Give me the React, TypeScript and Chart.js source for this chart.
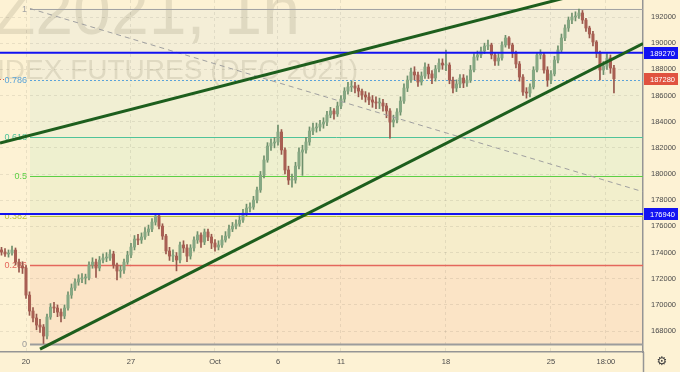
import React, { useEffect, useRef } from 'react';
import { Chart, registerables } from 'chart.js';

Chart.register(...registerables);

// ---- candle data (1 candle ≈ 1/6 trading day), index of first candle = -1 ----
const firstIndex = -1;
const firstOpen = 174200;
const closes = [
  174040, 173890, 173960, 174190, 173270, 172970, 172820, 170750, 169530, 169000,
  168460, 168310, 167620, 169070, 169830, 169760, 169450, 169150, 169760, 170750,
  171290, 171750, 171980, 172060, 172060, 173050, 173270, 172820, 173430, 173580,
  173580, 173890, 173050, 172590, 172660, 173270, 173810, 174420, 175030, 174960,
  175190, 175570, 175800, 176330, 176790, 176020, 175260, 174120, 173730, 173730,
  173430, 174580, 174350, 173730, 174350, 174960, 175340, 174800, 175570, 175190,
  174730, 174420, 174580, 174960, 175260, 175800, 176020, 176180, 176480, 177020,
  177400, 177480, 178010, 178780, 179920, 181070, 182140, 182370, 182450, 183210,
  181840, 180310, 179540, 179540, 180610, 181680, 181840, 182450, 183290, 183520,
  183590, 183820, 183970, 184510, 184820, 184590, 185200, 185730, 186340, 186650,
  186730, 186570, 186340, 186040, 185890, 185660, 185500, 185430, 185430, 185200,
  184820, 183970, 184130, 184740, 185580, 186570, 187180, 187800, 187570, 187030,
  187490, 188180, 187650, 187340, 188030, 188480, 188330, 188330, 187180, 186570,
  186880, 187340, 186960, 187180, 187950, 188940, 189100, 189400, 189780, 189860,
  189100, 188640, 188870, 189860, 190400, 189860, 189250, 188410, 187410, 186270,
  186190, 186650, 187950, 189100, 189100, 187950, 187180, 187650, 188710, 189480,
  190400, 191160, 191770, 192000, 192080, 192310, 191770, 191160, 190700, 190090,
  189250, 187950, 188250, 188870, 188100, 187280,
];
const highs = [
  174400, 174300, 174200, 174500, 174350, 173500, 173300, 173000, 171000, 169800,
  169300, 168900, 168500, 169300, 170100, 170200, 170000, 169700, 170000, 171000,
  171600, 172000, 172300, 172400, 172350, 173300, 173600, 173500, 173700, 173900,
  174000, 174200, 174100, 173200, 173000, 173500, 174100, 174700, 175300, 175400,
  175500, 175900, 176100, 176600, 176940, 176900, 176200, 175400, 174400, 174200,
  174000, 174800, 174900, 174600, 174600, 175200, 175600, 175500, 175800, 175800,
  175400, 175000, 174900, 175300, 175600, 176100, 176300, 176500, 176800, 177300,
  177700, 177800, 178300, 179000, 180200, 181400, 182400, 182700, 182800, 183750,
  183400, 182000, 180600, 180000, 180900, 182000, 182200, 182800, 183600, 183900,
  183900, 184100, 184300, 184800, 185100, 185000, 185500, 186000, 186600, 187000,
  187100, 187000, 186800, 186500, 186300, 186200, 186000, 185900, 185800, 185700,
  185400, 185000, 184500, 185000, 185900, 186900, 187500, 188100, 188200, 187800,
  187800, 188500, 188400, 187900, 188300, 188800, 188800, 189480, 188500, 187400,
  187200, 187600, 187600, 187500, 188300, 189200, 189400, 189700, 190000, 190240,
  190000, 189300, 189200, 190100, 190600, 190500, 190000, 189400, 188600, 187600,
  186600, 186900, 188200, 189300, 189500, 189300, 188200, 187900, 189000, 189800,
  190700, 191400, 192000, 192300, 192400, 192600, 192500, 191900, 191300, 190900,
  190200, 189400, 188600, 189200, 189100, 188300,
];
const lows = [
  173800, 173700, 173650, 173800, 173050, 172500, 172400, 170500, 169200, 168700,
  168100, 167900, 167050, 167400, 168900, 169400, 169100, 168700, 168950, 169600,
  170500, 171100, 171500, 171700, 171600, 171900, 172800, 172100, 172600, 173200,
  173300, 173400, 172800, 171900, 172100, 172400, 173100, 173600, 174200, 174600,
  174700, 175000, 175300, 175600, 176100, 175800, 175000, 173900, 173400, 173300,
  172600, 173200, 174000, 173300, 173500, 174100, 174700, 174400, 174600, 174900,
  174300, 174100, 174200, 174400, 174800, 175100, 175600, 175800, 176000, 176300,
  176800, 177100, 177300, 177800, 178600, 179700, 180900, 181800, 182000, 182200,
  181500, 180000, 179200, 179000, 179300, 180400, 179900, 181600, 182200, 183000,
  183200, 183300, 183500, 183700, 184300, 184200, 184400, 185000, 185500, 186100,
  186300, 186200, 185900, 185700, 185500, 185300, 185100, 185000, 185000, 184800,
  184300, 182750, 183600, 183900, 184500, 185400, 186300, 187000, 187200, 186700,
  186800, 187300, 187300, 186900, 187100, 187800, 188000, 187900, 186900, 186200,
  186300, 186600, 186600, 186700, 187000, 187800, 188700, 188900, 189200, 189500,
  188800, 188300, 188300, 188700, 189700, 189600, 188900, 188100, 187100, 186000,
  185800, 185900, 186500, 187800, 188800, 187700, 186700, 186900, 187500, 188500,
  189300, 190200, 190900, 191500, 191700, 191900, 191500, 190900, 190400, 189800,
  188900, 187200, 187600, 188000, 187700, 186190,
];

// ---- axes ----
const xMin = -1.43;
const xMax = 182.3;
const yMin = 166400;
const yMax = 193300;
const yTickValues = [
  168000, 170000, 172000, 174000, 176000, 178000, 180000,
  182000, 184000, 186000, 188000, 190000, 192000,
];
const xTickIdx = [6, 36, 60, 78, 96, 126, 156, 171.7];
const xTickLabels = ['20', '27', 'Oct', '6', '11', '18', '25', '18:00'];

// ---- fibonacci retracement ----
const fibStartIdx = 7.14;
const fibLow = 167000;
const fibHigh = 192650;
const fibLevels = [0, 0.236, 0.382, 0.5, 0.618, 0.786, 1];
const fibLabels = ['0', '0.236', '0.382', '0.5', '0.618', '0.786', '1'];
const fibColors = ['#9c9c9c', '#e4675c', '#b9c23e', '#5ccf45', '#4fc39a', '#5aa3d8', '#a3a3a3'];
const fibBandColors = ['#fbe4c6', '#f6edcb', '#f2efcc', '#eef0cf', '#f1efd3', '#f4eed7'];

// ---- drawings ----
const hLevels = [189270, 176940];
const lastPrice = 187280;
const trendLower = [{ x: 10, y: 166620 }, { x: 182.3, y: 189970 }];
const trendUpper = [{ x: -1.43, y: 182370 }, { x: 182.3, y: 194990 }];
const fibDiag = [{ x: 7.14, y: 192650 }, { x: 182.3, y: 178650 }];
const watermarkLines = ['RIZ2021, 1h', 'RTS INDEX FUTURES (DEC 2021)'];

const FONT = "'Liberation Sans', Arial, sans-serif";
const BG = '#fdf2d4';
const AXIS_LINE = '#959595';

export default function App() {
  const ref = useRef<HTMLCanvasElement>(null);

  useEffect(() => {
    document.body.style.margin = '0';
    const canvas = ref.current;
    if (!canvas) return;

    const opens = closes.map((c, i) => (i === 0 ? firstOpen : closes[i - 1]));
    const xs = closes.map((_, i) => firstIndex + i);
    const isUp = closes.map((c, i) => c >= opens[i]);
    const bodyData = xs.map((x, i) => ({ x, y: [opens[i], closes[i]] }));
    const wickData = xs.map((x, i) => ({ x, y: [lows[i], highs[i]] }));
    const fibPrices = fibLevels.map((r) => fibLow + r * (fibHigh - fibLow));

    const overlay = {
      id: 'overlay',
      beforeDraw(chart: any) {
        const { ctx, chartArea: a } = chart;
        const x = chart.scales.x;
        const y = chart.scales.y;
        ctx.save();
        ctx.fillStyle = BG;
        ctx.fillRect(0, 0, chart.width, chart.height);
        const fx = x.getPixelForValue(fibStartIdx);
        for (let k = 0; k < fibBandColors.length; k++) {
          const yLo = y.getPixelForValue(fibPrices[k]);
          const yHi = y.getPixelForValue(fibPrices[k + 1]);
          ctx.fillStyle = fibBandColors[k];
          ctx.fillRect(fx, yHi, a.right - fx, yLo - yHi);
        }
        ctx.beginPath();
        ctx.rect(a.left, a.top, a.right - a.left, a.bottom - a.top);
        ctx.clip();
        ctx.fillStyle = 'rgba(120,110,90,0.17)';
        ctx.textAlign = 'right';
        ctx.textBaseline = 'alphabetic';
        ctx.font = `68px ${FONT}`;
        ctx.fillText(watermarkLines[0], 300, 34);
        ctx.font = `28px ${FONT}`;
        ctx.fillText(watermarkLines[1], 358, 79);
        ctx.restore();
      },
      beforeDatasetsDraw(chart: any) {
        const { ctx, chartArea: a } = chart;
        const x = chart.scales.x;
        const y = chart.scales.y;
        const fx = x.getPixelForValue(fibStartIdx);
        ctx.save();
        fibPrices.forEach((p, k) => {
          const py = Math.round(y.getPixelForValue(p)) + 0.5;
          ctx.strokeStyle = fibColors[k];
          ctx.lineWidth = k === 0 ? 2 : k === 1 ? 1.5 : 1;
          ctx.setLineDash(k === 5 ? [2, 2] : []);
          ctx.beginPath();
          ctx.moveTo(fx, py);
          ctx.lineTo(a.right, py);
          ctx.stroke();
          ctx.setLineDash([]);
          ctx.fillStyle = fibColors[k];
          ctx.font = `9px ${FONT}`;
          ctx.textAlign = 'right';
          ctx.textBaseline = 'middle';
          ctx.fillText(fibLabels[k], fx - 3, py);
        });
        const lp = Math.round(y.getPixelForValue(lastPrice)) + 0.5;
        ctx.strokeStyle = '#e0604a';
        ctx.lineWidth = 1;
        ctx.setLineDash([1, 2]);
        ctx.beginPath();
        ctx.moveTo(a.left, lp);
        ctx.lineTo(fx - 24, lp);
        ctx.stroke();
        ctx.restore();
      },
      afterDraw(chart: any) {
        const { ctx, chartArea: a } = chart;
        const y = chart.scales.y;
        ctx.save();
        const tag = (price: number, color: string) => {
          const py = Math.round(y.getPixelForValue(price));
          ctx.fillStyle = color;
          ctx.fillRect(a.right + 1, py - 6, 34, 12);
          ctx.fillStyle = '#ffffff';
          ctx.font = `7.5px ${FONT}`;
          ctx.textAlign = 'left';
          ctx.textBaseline = 'middle';
          ctx.fillText(String(price), a.right + 7, py + 0.5);
        };
        hLevels.forEach((p) => tag(p, '#1212f2'));
        tag(lastPrice, '#e0523f');
        ctx.strokeStyle = AXIS_LINE;
        ctx.lineWidth = 1.5;
        ctx.beginPath();
        ctx.moveTo(a.right + 0.5, a.bottom);
        ctx.lineTo(a.right + 0.5, chart.height);
        ctx.stroke();
        ctx.fillStyle = '#3a3a3a';
        ctx.font = '12px "DejaVu Sans"';
        ctx.textAlign = 'center';
        ctx.textBaseline = 'middle';
        ctx.fillText('\u2699', 662, 362);
        ctx.restore();
      },
    };

    const hLineSet = hLevels.map((p) => ({
      type: 'line' as const,
      data: [{ x: xMin, y: p }, { x: xMax, y: p }],
      borderColor: '#1212f2',
      borderWidth: 2,
      pointRadius: 0,
      order: 3,
    }));

    const chart = new Chart(canvas, {
      type: 'bar',
      data: {
        datasets: [
          {
            type: 'bar',
            data: wickData as any,
            backgroundColor: isUp.map((u) => (u ? '#6d8f6b' : '#97574c')),
            barThickness: 1,
            grouped: false,
            minBarLength: 1,
            order: 6,
          } as any,
          {
            type: 'bar',
            data: bodyData as any,
            backgroundColor: isUp.map((u) => (u ? '#86a883' : '#a85f53')),
            barThickness: 2.4,
            grouped: false,
            minBarLength: 1,
            order: 5,
          } as any,
          {
            type: 'line',
            data: fibDiag,
            borderColor: '#a0a0a0',
            borderWidth: 1,
            borderDash: [5, 4],
            pointRadius: 0,
            order: 4,
          } as any,
          ...(hLineSet as any[]),
          {
            type: 'line',
            data: trendLower,
            borderColor: '#1d5e1d',
            borderWidth: 3,
            pointRadius: 0,
            order: 1,
          } as any,
          {
            type: 'line',
            data: trendUpper,
            borderColor: '#1d5e1d',
            borderWidth: 3,
            pointRadius: 0,
            order: 1,
          } as any,
        ],
      },
      options: {
        responsive: false,
        animation: false,
        events: [],
        layout: { padding: 0 },
        plugins: { legend: { display: false }, tooltip: { enabled: false } },
        scales: {
          x: {
            type: 'linear',
            min: xMin,
            max: xMax,
            offset: false,
            grid: { offset: false, color: 'rgba(0,0,0,0.08)', drawTicks: false },
            border: { display: true, color: AXIS_LINE, width: 1.5, dash: [3, 3] },
            ticks: {
              autoSkip: false,
              maxRotation: 0,
              padding: 5,
              color: '#4a4a4a',
              font: { size: 7.5, family: FONT },
              callback: (_v: any, i: number) => xTickLabels[i] ?? '',
            },
            afterBuildTicks: (s: any) => {
              s.ticks = xTickIdx.map((v) => ({ value: v }));
            },
            afterFit: (s: any) => {
              s.height = 20;
              s.paddingLeft = 0;
              s.paddingRight = 0;
            },
          } as any,
          y: {
            type: 'linear',
            position: 'right',
            min: yMin,
            max: yMax,
            grid: { color: 'rgba(0,0,0,0.08)', drawTicks: false },
            border: { display: true, color: AXIS_LINE, width: 1.5, dash: [3, 3] },
            ticks: {
              autoSkip: false,
              padding: 8,
              color: '#4a4a4a',
              font: { size: 7.5, family: FONT },
              callback: (v: any) => String(v),
            },
            afterBuildTicks: (s: any) => {
              s.ticks = yTickValues.map((v) => ({ value: v }));
            },
            afterFit: (s: any) => {
              s.width = 37;
              s.paddingTop = 0;
              s.paddingBottom = 0;
            },
          } as any,
        },
      },
      plugins: [overlay as any],
    });

    return () => chart.destroy();
  }, []);

  return (
    <div style={{ width: 680, height: 372 }}>
      <canvas ref={ref} width={680} height={372} style={{ display: 'block' }} />
    </div>
  );
}
